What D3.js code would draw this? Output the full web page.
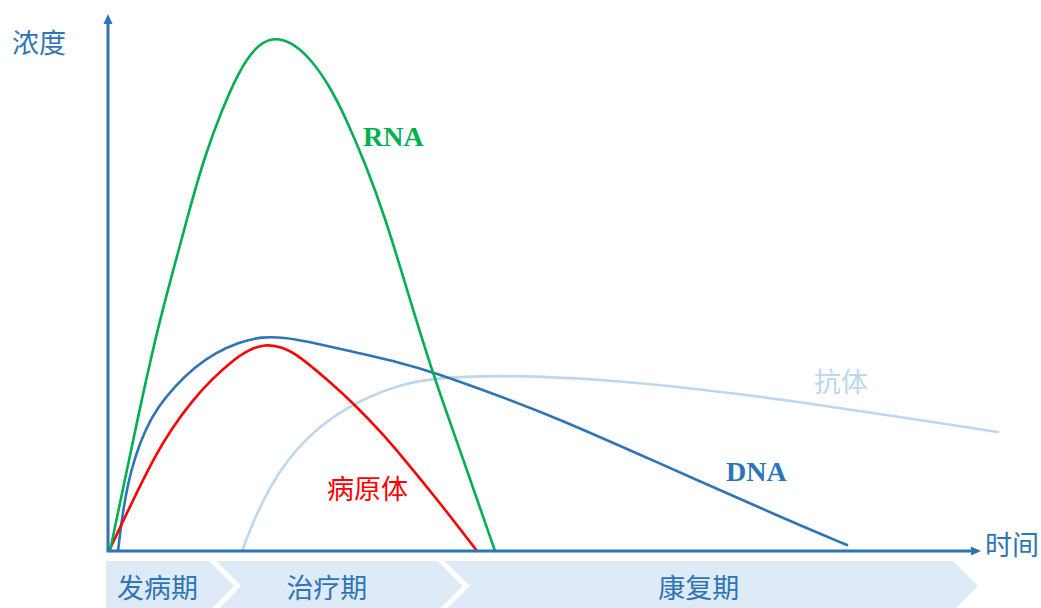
<!DOCTYPE html>
<html><head><meta charset="utf-8">
<script src="https://cdn.jsdelivr.net/npm/d3@7/dist/d3.min.js"></script>
<style>html,body{margin:0;padding:0;background:#fff;}svg{display:block;}</style>
</head><body>
<svg id="chart" width="1041" height="608"></svg>
<script>
// time (0-100) and concentration (0-100)
const rnaT  = [0.23, 2.87, 5.62, 7.34, 9.17, 11.12, 13.07, 14.91, 16.86, 18.81, 21.10, 23.39, 25.69, 27.52, 29.47, 31.77, 34.06, 37.16, 40.37, 44.38];
const rnaC  = [0, 20.71, 41.23, 51.49, 62.69, 73.88, 82.28, 89.18, 94.03, 95.90, 94.96, 91.60, 86.01, 79.85, 72.39, 62.31, 50.0, 33.40, 18.84, 0];
const dnaT  = [1.15, 1.61, 2.29, 3.10, 4.24, 5.73, 7.68, 9.98, 12.27, 14.91, 17.66, 20.30, 22.59, 27.75, 33.49, 37.27, 44.95, 51.49, 62.16, 77.87, 84.75];
const dnaC  = [0, 6.34, 12.69, 17.54, 22.57, 26.87, 30.78, 34.33, 36.94, 38.90, 40.02, 39.83, 39.18, 37.31, 35.17, 33.40, 28.92, 24.81, 17.16, 5.78, 1.12];
const pathT = [0.11, 1.61, 3.44, 5.39, 7.34, 9.63, 11.93, 14.22, 16.06, 18.0, 19.95, 21.79, 25.46, 28.33, 31.19, 34.06, 38.07, 42.32];
const pathC = [0, 5.22, 11.38, 17.72, 22.95, 27.99, 32.09, 35.45, 37.50, 38.62, 38.06, 36.57, 31.53, 27.24, 22.39, 16.98, 8.96, 0];
const abT   = [15.37, 16.86, 18.81, 20.64, 22.59, 25.46, 29.70, 33.49, 37.27, 44.95, 56.42, 67.89, 79.36, 90.83, 102.06];
const abC   = [0, 6.34, 12.69, 16.98, 20.71, 24.81, 28.73, 30.97, 32.28, 32.84, 32.09, 30.22, 27.80, 25.0, 22.20];

const phaseNames = ["发病期", "治疗期", "康复期"];
const phaseStart = [0, 11.6, 37.8];
const phaseEnd   = [11.6, 37.8, 96.9];

const seriesLabels = ["RNA", "DNA", "病原体", "抗体"];
const axisLabels = ["浓度", "时间"];

const svg = d3.select("#chart");
const x = d3.scaleLinear().domain([0, 100]).range([108, 980]);
const y = d3.scaleLinear().domain([0, 100]).range([551, 15]);

const blue = "#2e75b6";
const cjk = "'Noto Sans CJK SC','Noto Sans',sans-serif";
const serif = "'Liberation Serif','DejaVu Serif',serif";

// phase band
const bandTop = 561, bandBot = 611, mid = (bandTop + bandBot) / 2, depth = 25, gap = 7;
phaseNames.forEach((name, i) => {
  const x0 = x(phaseStart[i]) + (i === 0 ? -2 : gap);
  const x1 = x(phaseEnd[i]);
  const pts = [[x0, bandTop], [x1, bandTop], [x1 + depth, mid], [x1, bandBot], [x0, bandBot]];
  if (i > 0) pts.push([x0 + depth, mid]);
  svg.append("path").attr("d", "M" + pts.map(p => p.join(",")).join("L") + "Z")
    .attr("fill", "#deebf7");
  svg.append("text").attr("x", (x0 + x1) / 2).attr("y", mid)
    .attr("text-anchor", "middle").attr("dominant-baseline", "central")
    .attr("font-family", cjk).attr("font-size", 27).attr("fill", blue).text(name);
});

// curves
const line = d3.line().x(d => x(d[0])).y(d => y(d[1])).curve(d3.curveBasis);
function draw(ts, cs, color) {
  svg.append("path").datum(d3.zip(ts, cs)).attr("d", line)
    .attr("fill", "none").attr("stroke", color).attr("stroke-width", 2.6)
    .attr("stroke-linejoin", "round").attr("stroke-linecap", "round");
}
draw(abT, abC, "#bdd7ee");
draw(dnaT, dnaC, blue);
draw(pathT, pathC, "#ff0000");
draw(rnaT, rnaC, "#00b050");

// axes
svg.append("line").attr("x1", x(0)).attr("y1", y(0)).attr("x2", x(0)).attr("y2", 22)
  .attr("stroke", blue).attr("stroke-width", 3);
svg.append("path").attr("d", `M${x(0)},14L${x(0)-4.5},24L${x(0)+4.5},24Z`).attr("fill", blue);
svg.append("line").attr("x1", x(0) - 1.5).attr("y1", y(0)).attr("x2", 973).attr("y2", y(0))
  .attr("stroke", blue).attr("stroke-width", 3);
svg.append("path").attr("d", `M981,${y(0)}L971,${y(0)-4.5}L971,${y(0)+4.5}Z`).attr("fill", blue);

svg.append("text").attr("x", 12).attr("y", 41).attr("dominant-baseline", "central")
  .attr("font-family", cjk).attr("font-size", 27).attr("fill", blue).text(axisLabels[0]);
svg.append("text").attr("x", 985).attr("y", 543).attr("dominant-baseline", "central")
  .attr("font-family", cjk).attr("font-size", 27).attr("fill", blue).text(axisLabels[1]);

// series labels
svg.append("text").attr("x", 363).attr("y", 146).attr("font-family", serif)
  .attr("font-weight", "bold").attr("font-size", 28).attr("fill", "#00b050").text(seriesLabels[0]);
svg.append("text").attr("x", 726).attr("y", 481).attr("font-family", serif)
  .attr("font-weight", "bold").attr("font-size", 28).attr("fill", blue).text(seriesLabels[1]);
svg.append("text").attr("x", 327).attr("y", 487).attr("dominant-baseline", "central")
  .attr("font-family", cjk).attr("font-size", 27).attr("fill", "#ff0000").text(seriesLabels[2]);
svg.append("text").attr("x", 814).attr("y", 380).attr("dominant-baseline", "central")
  .attr("font-family", cjk).attr("font-size", 27).attr("fill", "#bdd7ee").text(seriesLabels[3]);
</script>
</body></html>
